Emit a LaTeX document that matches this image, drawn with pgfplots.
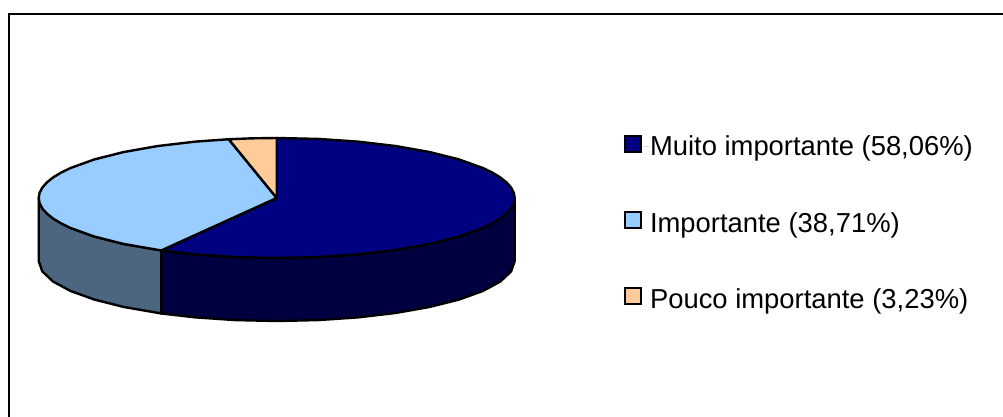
\documentclass[border=0pt]{standalone}
\usepackage{fontspec}
\setmainfont{Liberation Sans}
\usepackage{pgfplots}
\usepackage{pgfplotstable}
\pgfplotsset{compat=1.18}

% Shares: 58.06 %, 38.71 %, 3.23 %. Slice boundaries in degrees, clockwise from
% the top: 58.06 * 3.6 = 209.02 and (58.06 + 38.71) * 3.6 = 348.37.
% Columns: a = angle, r = radius fraction, d = 1 on the lower rim of the disc.
\pgfplotstableread[row sep=\\]{
a r d\\
0 0 0\\ 0 1 0\\ 10 1 0\\ 20 1 0\\ 30 1 0\\ 40 1 0\\ 50 1 0\\ 60 1 0\\ 65 1 0\\ 70 1 0\\ 75 1 0\\ 80 1 0\\ 85 1 0\\ 90 1 0\\
95 1 0\\ 100 1 0\\ 105 1 0\\ 110 1 0\\ 115 1 0\\ 120 1 0\\ 130 1 0\\ 140 1 0\\ 150 1 0\\ 160 1 0\\ 170 1 0\\ 180 1 0\\ 190 1 0\\ 200 1 0\\ 209.02 1 0\\
0 0 0\\
}\sliceMuito
\pgfplotstableread[row sep=\\]{
a r d\\
209.02 0 0\\ 209.02 1 0\\ 220 1 0\\ 230 1 0\\ 240 1 0\\ 245 1 0\\ 250 1 0\\ 255 1 0\\ 260 1 0\\ 265 1 0\\ 270 1 0\\
275 1 0\\ 280 1 0\\ 285 1 0\\ 290 1 0\\ 295 1 0\\ 300 1 0\\ 310 1 0\\ 320 1 0\\ 330 1 0\\ 340 1 0\\ 348.37 1 0\\
209.02 0 0\\
}\sliceImportante
\pgfplotstableread[row sep=\\]{
a r d\\
348.37 0 0\\ 348.37 1 0\\ 354 1 0\\ 360 1 0\\ 348.37 0 0\\
}\slicePouco
% Visible outer walls of the two front slices
\pgfplotstableread[row sep=\\]{
a r d\\
90 1 0\\ 100 1 0\\ 110 1 0\\ 120 1 0\\ 130 1 0\\ 140 1 0\\ 150 1 0\\ 160 1 0\\ 170 1 0\\ 180 1 0\\ 190 1 0\\ 200 1 0\\ 209.02 1 0\\
209.02 1 1\\ 200 1 1\\ 190 1 1\\ 180 1 1\\ 170 1 1\\ 160 1 1\\ 150 1 1\\ 140 1 1\\ 130 1 1\\ 120 1 1\\ 110 1 1\\ 100 1 1\\ 90 1 1\\
90 1 0\\
}\wallMuito
\pgfplotstableread[row sep=\\]{
a r d\\
209.02 1 0\\ 220 1 0\\ 230 1 0\\ 240 1 0\\ 250 1 0\\ 260 1 0\\ 270 1 0\\
270 1 1\\ 260 1 1\\ 250 1 1\\ 240 1 1\\ 230 1 1\\ 220 1 1\\ 209.02 1 1\\
209.02 1 0\\
}\wallImportante

\definecolor{muito}{HTML}{000080}
\definecolor{importante}{HTML}{99CCFF}
\definecolor{pouco}{HTML}{FFCC99}
\definecolor{wallmuito}{HTML}{000040}
\definecolor{wallimportante}{HTML}{4D6680}

\begin{document}
\begin{tikzpicture}
\begin{axis}[
  scale only axis, width=1003pt, height=417pt,
  xmin=0, xmax=1003, ymin=0, ymax=417, y dir=reverse,
  axis lines=none,
  legend cell align=left,
  legend style={
    at={(axis cs:624,135)}, anchor=north west,
    draw=none, fill=none, inner sep=0pt, outer sep=0pt,
    font=\fontsize{27.4}{30}\selectfont,
    row sep=55.2pt,
    nodes={inner sep=0pt, outer sep=0pt, text depth=0pt},
  },
  legend image code/.code={
    \draw[#1, line width=2pt, line join=miter] (0pt,-6pt) rectangle (16pt,10pt);
    \path[draw=none] (16pt,0pt) -- (25pt,0pt);
  },
  disc/.style={draw=black, line width=2.4pt, line join=round},
  table/x expr=276.7+238*\thisrow{r}*sin(\thisrow{a}),
  table/y expr=198-60*\thisrow{r}*cos(\thisrow{a})+63*\thisrow{d},
]
  % page area of the chart
  \path[use as bounding box] (axis cs:0,0) rectangle (axis cs:1003,417);

  % outer frame, open on the right and at the bottom
  \addplot[black, line width=2pt, forget plot] coordinates {(1003,14) (9,14) (9,417)};

  \addplot[disc, fill=wallmuito, forget plot] table {\wallMuito};
  \addplot[disc, fill=wallimportante, forget plot] table {\wallImportante};

  \addplot[disc, fill=muito] table {\sliceMuito};
  \addlegendentry{Muito importante (58,06\%)}
  \addplot[disc, fill=importante] table {\sliceImportante};
  \addlegendentry{Importante (38,71\%)}
  \addplot[disc, fill=pouco] table {\slicePouco};
  \addlegendentry{Pouco importante (3,23\%)}
\end{axis}
\end{tikzpicture}
\end{document}
